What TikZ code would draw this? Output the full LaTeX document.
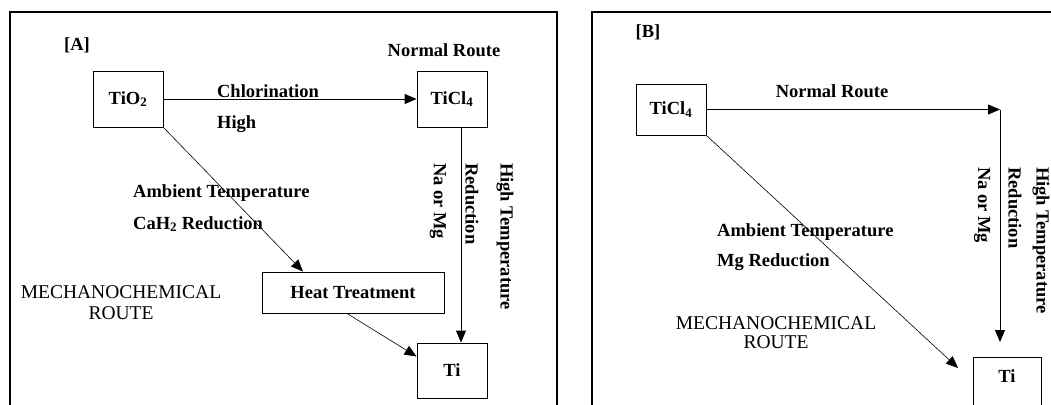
\documentclass[tikz,border=0pt]{standalone}
\usepackage{fontspec}
\setmainfont{Liberation Serif}
\usetikzlibrary{arrows.meta,calc}
\begin{document}
\begin{tikzpicture}[x=1pt,y=-1pt,
  every node/.style={font=\fontsize{18.5}{22}\selectfont\bfseries, inner sep=0pt},
  box/.style={draw, line width=0.9pt, minimum width=70pt, minimum height=56pt},
  lbl/.style={anchor=west},
  vlbl/.style={anchor=west, rotate=-90},
  plain/.style={font=\fontsize{19.5}{22}\selectfont},
  conn/.style={line width=0.9pt, -{Triangle[length=12pt,width=10pt]}},
  diag/.style={line width=0.6pt, -{Triangle[length=12pt,width=10pt]}},
  frame/.style={line width=1.3pt}]
\useasboundingbox (0,0) rectangle (1051,404);
\clip (0,0) rectangle (1051,404);
\fill[white] (0,0) rectangle (1051,404);
% frames
\draw[frame] (10,420) -- (10,12) -- (557,12) -- (557,420);
\draw[frame] (592,420) -- (592,12) -- (1070,12) -- (1070,420);

% ---------- Panel A ----------
\node (tagA) at (77,45) {[A]};
\node (nrA) at (444,50) {Normal Route};
\node[box] (tio2) at (128,99) {TiO\textsubscript{2}};
\node[box] (ticlA) at (452,99) {TiCl\textsubscript{4}};
\node[box, minimum width=182pt, minimum height=41pt] (heat) at (353,292.5) {Heat Treatment};
\node[box, minimum height=55pt] (tiA) at (452,370.5) {Ti};
\node (chl) at (268,91) {Chlorination};
\node[lbl] (high) at (217,124) {High};
\node[lbl] (ambA) at (133,193) {Ambient Temperature};
\node[lbl] (cah) at (133,224) {CaH\textsubscript{2} Reduction};
\node[plain] (mechA) at (121,292) {MECHANOCHEMICAL};
\node[plain] (routeA) at (121,313) {ROUTE};
\node[vlbl] (naA) at (438,163) {Na or Mg};
\node[vlbl] (redA) at (472,163) {Reduction};
\node[vlbl] (htA) at (505,163) {High Temperature};

\draw[conn] (tio2.east) -- (ticlA.west);
\draw[diag] (tio2.south east) -- ($(heat.north)+(-50,0)$);
\draw[diag] ($(heat.south)+(-6,0)$) -- ($(tiA.west)+(0,-14)$);
\draw[conn] ($(ticlA.south)+(9,0)$) -- ($(tiA.north)+(9,0)$);

% ---------- Panel B ----------
\node (tagB) at (648,32) {[B]};
\node[box, minimum height=51pt] (ticlB) at (671,109.5) {TiCl\textsubscript{4}};
\node (nrB) at (832,91) {Normal Route};
\node[lbl] (ambB) at (717,232) {Ambient Temperature};
\node[lbl] (mgr) at (717,262) {Mg Reduction};
\node[plain] (mechB) at (776,323) {MECHANOCHEMICAL};
\node[plain] (routeB) at (776,342) {ROUTE};
\node[vlbl] (naB) at (982,167) {Na or Mg};
\node[vlbl] (redB) at (1015,167) {Reduction};
\node[vlbl] (htB) at (1041,167) {High Temperature};
\node[draw, line width=0.9pt, minimum width=68pt, minimum height=70pt, anchor=north] (tiB) at (1007,357) {};
\node (tiBtext) at (1007,376) {Ti};

\coordinate (cornerB) at (1000,109.5);
\coordinate (tipB) at (1000,342);
\coordinate (diagB) at (958,368);
\draw[conn] (ticlB.east) -- (cornerB);
\draw[conn] (cornerB) -- (tipB);
\draw[diag] (ticlB.south east) -- (diagB);
\end{tikzpicture}
\end{document}
